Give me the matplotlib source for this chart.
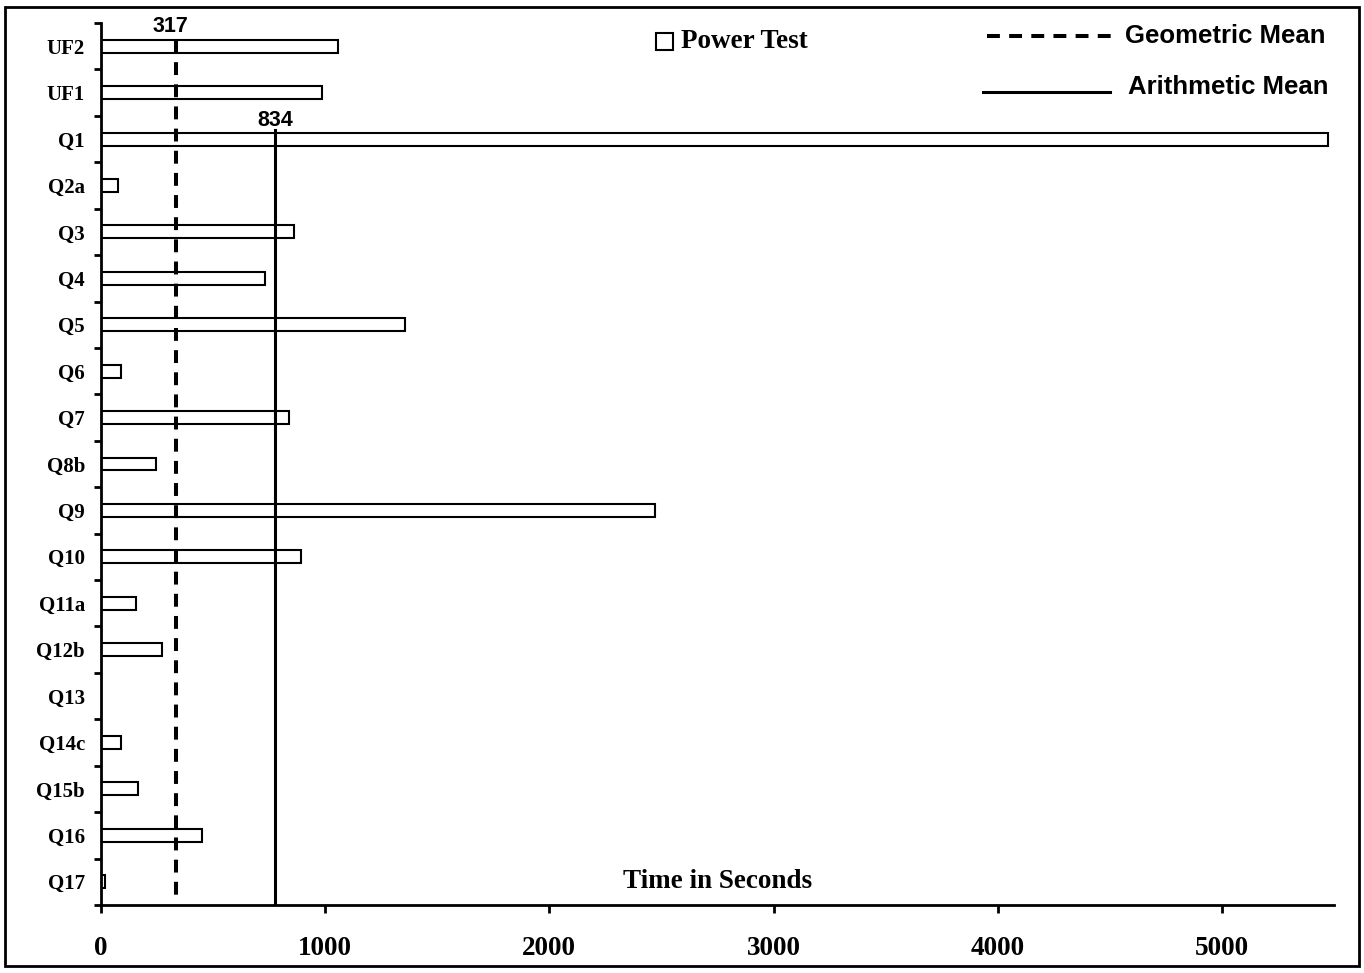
import matplotlib.pyplot as plt
from matplotlib.lines import Line2D
from matplotlib.patches import Rectangle

queries = ["UF2", "UF1", "Q1", "Q2a", "Q3", "Q4", "Q5", "Q6", "Q7", "Q8b",
           "Q9", "Q10", "Q11a", "Q12b", "Q13", "Q14c", "Q15b", "Q16", "Q17"]
seconds = [1058, 987, 5473, 76, 862, 732, 1357, 89, 839, 246,
           2473, 893, 156, 272, 0, 89, 165, 451, 18]
geo_mean_pos = 335
arith_mean_pos = 777
geo_mean_label = "317"
arith_mean_label = "834"
xticks = [0, 1000, 2000, 3000, 4000, 5000]

serif = "Liberation Serif"
sans = "Liberation Sans"

fig = plt.figure(figsize=(13.64, 9.73), dpi=100)
ax = fig.add_axes([101 / 1364, 68 / 973, 1233 / 1364, 882 / 973])

ypos = list(range(len(queries)))
ax.barh(ypos, seconds, height=0.28, color="white", edgecolor="black", linewidth=1.5, zorder=2)

ax.set_ylim(len(queries) - 0.5, -0.5)
ax.set_xlim(0, 5500)

# mean lines
ax.plot([geo_mean_pos, geo_mean_pos], [-0.14, len(queries) - 0.65], color="black",
        linewidth=2.9, linestyle=(0, (3.2, 2.3)), zorder=3)
ax.plot([arith_mean_pos, arith_mean_pos], [len(queries) - 0.5, 1.8],
        color="black", linewidth=2.2, zorder=3)
ax.text(geo_mean_pos - 25, -0.3, geo_mean_label, ha="center", va="baseline",
        fontfamily=sans, fontweight="bold", fontsize=15.5)
ax.text(arith_mean_pos, 1.72, arith_mean_label, ha="center", va="baseline",
        fontfamily=sans, fontweight="bold", fontsize=15.5)

# axes styling
for side in ["top", "right"]:
    ax.spines[side].set_visible(False)
for side in ["left", "bottom"]:
    ax.spines[side].set_linewidth(2)

ax.set_yticks(ypos)
ax.set_yticklabels(queries, fontfamily=serif, fontweight="bold", fontsize=15)
ax.tick_params(axis="y", which="major", length=0, pad=11.5)
ax.set_yticks([i - 0.5 for i in range(len(queries) + 1)], minor=True)
ax.tick_params(axis="y", which="minor", length=5, width=2, direction="out")

ax.set_xticks(xticks)
ax.set_xticklabels([str(t) for t in xticks], fontfamily=serif, fontweight="bold", fontsize=19.5)
ax.tick_params(axis="x", length=6, width=2, direction="out", pad=16)

ax.text(0.5, 0.012, "Time in Seconds", transform=ax.transAxes, ha="center", va="bottom",
        fontfamily=serif, fontweight="bold", fontsize=19.5)

# legend drawn by hand
W, H = 1364, 973
fig.patches.append(Rectangle((656 / W, 1 - 50 / H), 17 / W, 17 / H, transform=fig.transFigure,
                             facecolor="white", edgecolor="black", linewidth=1.5))
fig.text(681 / W, 1 - 42 / H, "Power Test", ha="left", va="center",
         fontfamily=serif, fontweight="bold", fontsize=19.5)
fig.add_artist(Line2D([987 / W, 1113 / W], [1 - 36 / H, 1 - 36 / H], transform=fig.transFigure,
                      color="black", linewidth=2.9, linestyle=(0, (3.2, 2.3))))
fig.text(1125 / W, 1 - 36 / H, "Geometric Mean", ha="left", va="center",
         fontfamily=sans, fontweight="bold", fontsize=18.5)
fig.add_artist(Line2D([983 / W, 1110 / W], [1 - 92 / H, 1 - 92 / H], transform=fig.transFigure,
                      color="black", linewidth=2.2))
fig.text(1128 / W, 1 - 87 / H, "Arithmetic Mean", ha="left", va="center",
         fontfamily=sans, fontweight="bold", fontsize=18.5)

# outer frame
fig.patches.append(Rectangle((5 / W, 1 - 966 / H), 1354 / W, 959 / H, transform=fig.transFigure,
                             facecolor="none", edgecolor="black", linewidth=2))

fig.savefig("out.png", dpi=100)
